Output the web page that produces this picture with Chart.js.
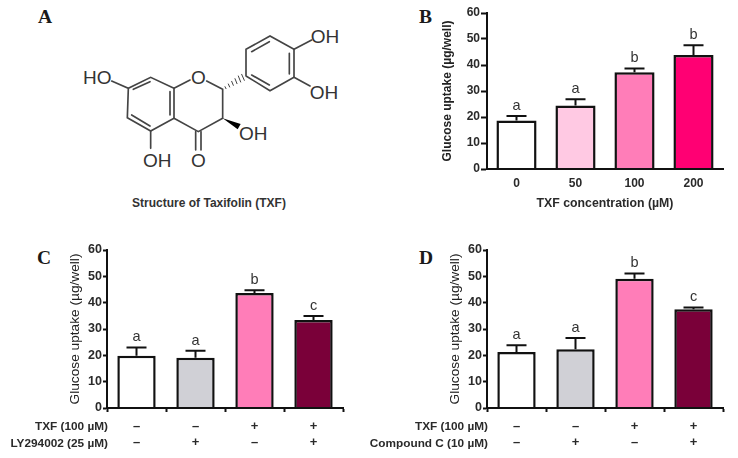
<!DOCTYPE html>
<html><head><meta charset="utf-8">
<style>
html,body{margin:0;padding:0;background:#fff;width:738px;height:458px;overflow:hidden}
body{filter:blur(0.35px)}
canvas{position:absolute;display:block}
svg{position:absolute;left:0;top:0}
.p{position:absolute;font:bold 19.5px "Liberation Serif",serif;color:#1a1a1a;line-height:20px}
.cap{position:absolute;left:60px;width:298px;top:196px;text-align:center;font:bold 12px "Liberation Sans",sans-serif;color:#333;line-height:14px}
</style>
<script src="https://cdn.jsdelivr.net/npm/chart.js@4"></script>
</head><body>
<div class="p" style="left:38px;top:7px">A</div>
<div class="p" style="left:419px;top:7px">B</div>
<div class="p" style="left:37px;top:248px">C</div>
<div class="p" style="left:419px;top:248px">D</div>
<svg width="369" height="190" viewBox="0 0 1107 570">
<g stroke="#444" stroke-width="5" fill="none" stroke-linecap="round">
<path d="M335 243L385 265L452 232L522 265L522 355L452 393L382 353L385 265"/>
<path d="M400 268L450 245M510 275L510 345M395 345L450 378"/>
<path d="M522 265L570 240M620 243L668 268L668 355L595 395L522 355"/>
<path d="M587 395L587 450M603 395L603 450M452 393L452 445"/>
<path d="M738 228L738 148L810 108L882 148L882 232L810 272L738 228"/>
<path d="M755 155L808 125M868 160L868 222M755 225L808 255M882 148L935 120M882 232L930 258"/>
<path stroke-width="3" d="M678 266L675 260M689 261L685 252M700 256L695 244M711 251L705 236M722 246L715 228M733 241L725 223"/>
</g>
<path d="M668 355L722 372L713 388Z" fill="#000"/>
<g font-family="Liberation Sans" font-size="57" fill="#333" text-anchor="middle">
<text x="292" y="252">HO</text><text x="595" y="252">O</text>
<text x="975" y="130">OH</text><text x="972" y="296">OH</text>
<text x="760" y="420">OH</text><text x="472" y="501">OH</text><text x="595" y="501">O</text>
</g>
</svg>
<div class="cap">Structure of Taxifolin (TXF)</div>
<canvas id="cB" width="328" height="225" style="left:410px;top:0"></canvas>
<canvas id="cC" width="369" height="223" style="left:0;top:235px"></canvas>
<canvas id="cD" width="369" height="223" style="left:369px;top:235px"></canvas>
<script>
const yTicks = [0,10,20,30,40,50,60];
const yTitle = 'Glucose uptake (µg/well)';

const catB = ['0','50','100','200'];
const meanB = [18.7,24.4,37.2,43.8];
const errB = [20.4,26.8,38.7,47.6];
const letB = ['a','a','b','b'];
const colB = ['#ffffff','#ffc9e3','#ff7db8','#ff0073'];
const xTitleB = 'TXF concentration (µM)';

const catC = [['–','–'],['–','+'],['+','–'],['+','+']];
const meanC = [19.8,19.1,43.7,33.4];
const errC = [23,21.7,44.7,34.9];
const letC = ['a','a','b','c'];
const colC = ['#ffffff','#d0d0d6','#ff7db8','#7a0039'];
const rowsC = ['TXF (100 µM)','LY294002 (25 µM)'];

const catD = [['–','–'],['–','+'],['+','–'],['+','+']];
const meanD = [21.3,22.3,49.1,37.5];
const errD = [23.8,26.6,51.1,38.2];
const letD = ['a','a','b','c'];
const colD = ['#ffffff','#d0d0d6','#ff7db8','#7a0039'];
const rowsD = ['TXF (100 µM)','Compound C (10 µM)'];

const SANS = '"Liberation Sans",Arial,sans-serif';
const INK = '#2a2a2a';

const extras = {
  id:'extras',
  afterDatasetsDraw(chart,args,o){
    const {ctx,scales:{x,y}} = chart;
    ctx.save();
    ctx.strokeStyle='#111';ctx.lineWidth=2;
    o.err.forEach((e,i)=>{
      const cx=x.getPixelForValue(i),t=y.getPixelForValue(e),b=y.getPixelForValue(o.mean[i]);
      ctx.beginPath();ctx.moveTo(cx,b);ctx.lineTo(cx,t);
      ctx.moveTo(cx-o.cap,t);ctx.lineTo(cx+o.cap,t);ctx.stroke();
      ctx.fillStyle='#333';ctx.font='14.5px '+SANS;ctx.textAlign='center';ctx.textBaseline='alphabetic';
      ctx.fillText(o.letters[i],cx,t-6);
    });
    if(o.rows){
      ctx.fillStyle=INK;ctx.font='bold '+o.rowSize+'px '+SANS;ctx.textAlign='right';ctx.textBaseline='middle';
      o.rows.forEach((r,i)=>ctx.fillText(r,x.left+1,o.rowY+i*16.6));
    }
    ctx.restore();
  }
};

function make(id,c){
  return new Chart(document.getElementById(id),{
    type:'bar',
    data:{labels:c.cats,datasets:[{data:c.mean,backgroundColor:c.col,borderColor:'#111',borderWidth:2.5,borderSkipped:'bottom',barPercentage:1,categoryPercentage:c.bar}]},
    plugins:[extras],
    options:{
      responsive:false,animation:false,events:[],
      layout:{autoPadding:false,padding:c.pad},
      plugins:{legend:{display:false},tooltip:{enabled:false},
        extras:{err:c.err,mean:c.mean,letters:c.letters,cap:c.cap,rows:c.rows,rowY:c.rowY,rowSize:c.rowSize}},
      scales:{
        x:{grid:{drawOnChartArea:false,drawTicks:true,tickLength:c.xTick,tickWidth:2,tickColor:c.xTick>1?'#111':'rgba(0,0,0,0)'},
           border:{color:'#111',width:2,z:1},
           ticks:{color:INK,font:{family:SANS,size:c.xSize,weight:'bold',lineHeight:c.xLH},padding:c.xPad,maxRotation:0,autoSkip:false},
           title:c.xTitle?{display:true,text:c.xTitle,color:INK,font:{family:SANS,size:12.3,weight:'bold'},padding:0}:{display:false},
           afterFit(s){s.height=c.xH;}},
        y:{min:0,max:60,
           afterBuildTicks(s){s.ticks=yTicks.map(v=>({value:v}));},
           grid:{drawOnChartArea:false,tickLength:c.yTick,tickWidth:2,tickColor:'#111'},
           border:{color:'#111',width:2},
           ticks:{color:INK,font:{family:SANS,size:c.ySize,weight:'bold'},padding:1},
           title:{display:true,text:yTitle,color:'#222',font:{family:SANS,size:c.tSize,weight:c.tWeight},padding:0},
           afterFit(s){s.width=c.yW;}}
      }
    }
  });
}

make('cB',{cats:catB,mean:meanB,err:errB,letters:letB,col:colB,xTitle:xTitleB,cap:10,bar:0.68,
  pad:{left:30.8,right:15,top:13,bottom:14},xH:42,yW:46.2,xTick:0,yTick:6,xSize:12,xLH:1.2,xPad:7,ySize:12,tSize:12,tWeight:'bold'});
make('cC',{cats:catC,mean:meanC,err:errC,letters:letC,col:colC,cap:10,bar:0.65,rows:rowsC,rowY:192,rowSize:11.8,
  pad:{left:67.5,right:26,top:15,bottom:0},xH:50,yW:39.5,xTick:4,yTick:4,xSize:13,xLH:1.277,xPad:6,ySize:12.5,tSize:13.7,tWeight:'normal'});
make('cD',{cats:catD,mean:meanD,err:errD,letters:letD,col:colD,cap:10,bar:0.65,rows:rowsD,rowY:192,rowSize:11.8,
  pad:{left:77.8,right:15,top:15,bottom:0},xH:50,yW:40.2,xTick:4,yTick:4,xSize:13,xLH:1.277,xPad:6,ySize:12.5,tSize:13.7,tWeight:'normal'});
</script>
</body></html>
